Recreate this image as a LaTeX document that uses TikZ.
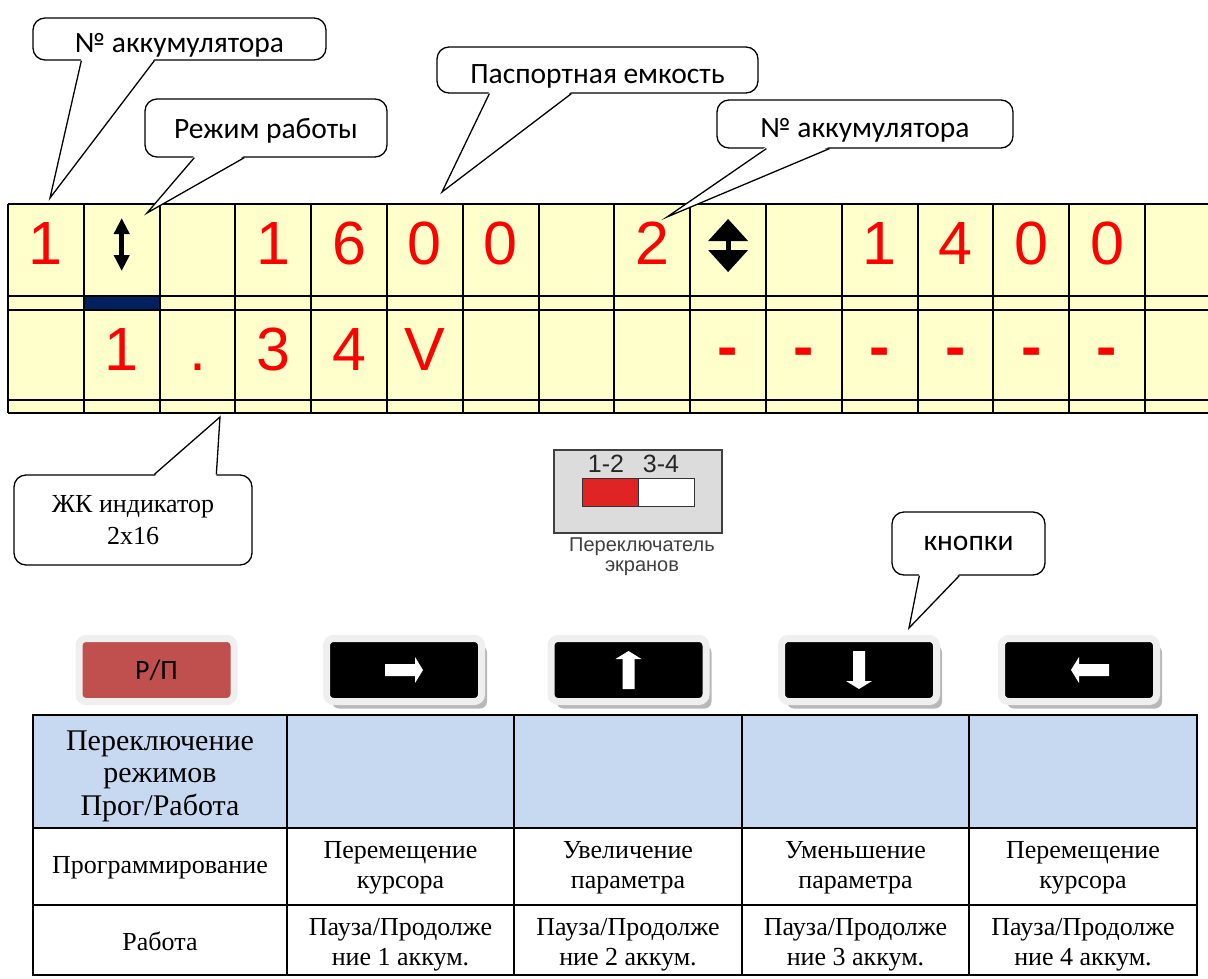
\documentclass[tikz,border=0pt]{standalone}
\usepackage{fontspec}
\setmainfont{Liberation Serif}
\newfontfamily\arialfont{Liberation Sans}
\newfontfamily\calibrifont{Carlito}
\usetikzlibrary{calc,positioning,shadows,arrows.meta}

\definecolor{lcdyellow}{HTML}{FFFFCC}
\definecolor{lcdred}{HTML}{FF0000}
\definecolor{cursorblue}{HTML}{002060}
\definecolor{headblue}{HTML}{C6D9F1}
\definecolor{rpred}{HTML}{C0504D}
\definecolor{halogray}{HTML}{EFEFEF}
\definecolor{switchgray}{HTML}{DCDCDC}
\definecolor{switchred}{HTML}{E02424}

\begin{document}
\begin{tikzpicture}[x=1pt,y=-1pt]
    \tikzstyle{lcdline}=[draw=black,line width=2pt]
    \tikzstyle{lcdchar}=[anchor=base,inner sep=0pt,text=lcdred,font=\arialfont\fontsize{61}{61}\selectfont]
    \tikzstyle{bubble}=[draw=black,fill=white,line width=1.3pt,rounded corners=12pt,inner sep=0pt,text depth=0pt,font=\calibrifont\fontsize{29.5}{29.5}\selectfont]
    \tikzstyle{wedge}=[draw=black,line width=1.3pt,line join=miter]
    \tikzstyle{keybtn}=[fill=black,draw=halogray,line width=7pt,rounded corners=7pt,minimum width=155,minimum height=63,inner sep=0pt,
        drop shadow={shadow xshift=5.5pt,shadow yshift=-7pt,fill=black!28,opacity=1}]
    \tikzstyle{keyarrow}=[fill=white]
    \tikzstyle{cell}=[align=center,inner sep=0pt,font=\fontsize{26}{30}\selectfont]

    \def\cw{75.8}

    \useasboundingbox (0,0) rectangle (1208,978);

    % LCD indicator 2x16
    \fill[lcdyellow] (8,204) rectangle (1208,413);
    \fill[cursorblue] (8+\cw,296) rectangle (8+2*\cw,310);
    \foreach \k in {0,...,15}
        \draw[lcdline] (8+\k*\cw,204) -- (8+\k*\cw,413);
    \foreach \y in {204,296,310,400,413}
        \draw[lcdline] (8,\y) -- (1208,\y);

    \foreach \c/\t in {1/1,4/1,5/6,6/0,7/0,9/2,12/1,13/4,14/0,15/0}
        \node[lcdchar] (ra\c) at ({8+\cw*(\c-0.5)},264) {\t};
    \foreach \c/\t in {2/1,3/.,4/3,5/4,6/V}
        \node[lcdchar] (rb\c) at ({8+\cw*(\c-0.5)},370) {\t};
    \foreach \c in {10,...,15}
        \node[lcdchar,font=\arialfont\bfseries\fontsize{61}{61}\selectfont] (rb\c) at ({8+\cw*(\c-0.5)},367) {-};

    % mode marks
    \draw[line width=4.5pt,{Triangle[width=15pt,length=16pt]}-{Triangle[width=15pt,length=16pt]}]
        ({8+\cw*1.5},218) -- ({8+\cw*1.5},271);
    \begin{scope}[shift={({8+\cw*9.5},0)}]
        \fill (-20,241) -- (0,219) -- (20,241) -- cycle;
        \fill (-2.5,240) rectangle (2.5,251);
        \fill (-20,250) -- (20,250) -- (0,272) -- cycle;
    \end{scope}

    % callouts
    \node[bubble,text height=26pt,minimum width=293,minimum height=42] (acc1) at (179.5,39) {№ аккумулятора};
    \node[bubble,minimum width=242,minimum height=58] (mode) at (266,128) {Режим работы};
    \node[bubble,text height=26pt,minimum width=321,minimum height=46] (cap)  at (597.5,70) {Паспортная емкость};
    \node[bubble,text height=26pt,minimum width=296,minimum height=48] (acc2) at (865,124) {№ аккумулятора};
    \node[bubble,minimum width=238,minimum height=90,text depth=,align=center,
          font=\fontsize{26}{32}\selectfont] (lcd) at (133,520) {ЖК индикатор\\2x16};
    \node[bubble,minimum width=153,minimum height=63] (keys) at (968.5,543.5) {кнопки};

    \coordinate (tacc1) at (50,198);
    \coordinate (tmode) at (147,213);
    \coordinate (tcap)  at (442,192);
    \coordinate (tacc2) at (667,217);
    \coordinate (tlcd)  at (220,417);
    \coordinate (tkeys) at (909,628);

    \foreach \b/\t/\l/\r/\s in {acc1/tacc1/49/122/-2,mode/tmode/50/100/-2,cap/tcap/53/135/-2,
                                acc2/tacc2/50/113/-2,keys/tkeys/28/68/-2}
    {
        \fill[white] ($(\b.south west)+(\l,\s)$) -- (\t) -- ($(\b.south west)+(\r,\s)$) -- cycle;
        \draw[wedge] ($(\b.south west)+(\l,0)$) -- (\t) -- ($(\b.south west)+(\r,0)$);
    }
    \fill[white] ($(lcd.north west)+(141,2)$) -- (tlcd) -- ($(lcd.north west)+(203,2)$) -- cycle;
    \draw[wedge] ($(lcd.north west)+(141,0)$) -- (tlcd) -- ($(lcd.north west)+(203,0)$);

    % screen switch
    \node[draw=black!75,fill=switchgray,line width=1.2pt,minimum width=168,minimum height=83,inner sep=0pt] (switch) at (638,491.5) {};
    \node[draw=black!80,fill=switchred,line width=1pt,minimum width=56,minimum height=28,inner sep=0pt] (sw12) at (610,492) {};
    \node[draw=black!80,fill=white,line width=1pt,minimum width=56,minimum height=28,inner sep=0pt] (sw34) at (666,492) {};
    \node[anchor=base,inner sep=0pt,text=black!85,font=\arialfont\fontsize{25}{25}\selectfont] (l12) at (606,472) {1-2};
    \node[anchor=base,inner sep=0pt,text=black!85,font=\arialfont\fontsize{25}{25}\selectfont] (l34) at (661,472) {3-4};
    \node[below=4pt of switch,xshift=4pt,align=center,inner sep=0pt,text=black!75,font=\arialfont\fontsize{20}{20}\selectfont] (swtext) {Переключатель\\экранов};

    % keys
    \node[fill=rpred,draw=halogray,line width=7pt,rounded corners=7pt,minimum width=155,minimum height=63,inner sep=0pt,
          font=\calibrifont\fontsize{28}{28}\selectfont] (rp) at (156.5,670) {Р/П};
    \node[keybtn] (kright) at (404,670) {};
    \node[keybtn] (kup)    at (628.5,670) {};
    \node[keybtn] (kdown)  at (859,670) {};
    \node[keybtn] (kleft)  at (1079,670) {};

    \foreach \k/\a/\dx in {kright/0/0,kup/90/0,kdown/-90/0,kleft/180/11}
        \fill[keyarrow,shift={($(\k.center)+(\dx,0)$)},rotate=\a]
            (-19,-6) -- (11,-6) -- (11,-13) -- (19,0) -- (11,13) -- (11,6) -- (-19,6) -- cycle;

    % table of keys
    \fill[headblue] (33,715) rectangle (1197,828);
    \draw[lcdline] (33,715) rectangle (1197,975);
    \foreach \x in {287,514,742,969}
        \draw[lcdline] (\x,715) -- (\x,975);
    \foreach \y in {828,905}
        \draw[lcdline] (33,\y) -- (1197,\y);

    \node[cell,font=\fontsize{30}{32.5}\selectfont] (hmode) at (160,776) {Переключение\\режимов\\Прог/Работа};

    \node[cell] (prog)  at (160,868)  {Программирование};
    \node[cell] (prog1) at (400.5,868) {Перемещение\\курсора};
    \node[cell] (prog2) at (628,868)  {Увеличение\\параметра};
    \node[cell] (prog3) at (855.5,868) {Уменьшение\\параметра};
    \node[cell] (prog4) at (1083,868) {Перемещение\\курсора};

    \node[cell] (work)  at (160,941)  {Работа};
    \node[cell] (work1) at (400.5,945) {Пауза/Продолже\\ние 1 аккум.};
    \node[cell] (work2) at (628,945)  {Пауза/Продолже\\ние 2 аккум.};
    \node[cell] (work3) at (855.5,945) {Пауза/Продолже\\ние 3 аккум.};
    \node[cell] (work4) at (1083,945) {Пауза/Продолже\\ние 4 аккум.};
\end{tikzpicture}
\end{document}
